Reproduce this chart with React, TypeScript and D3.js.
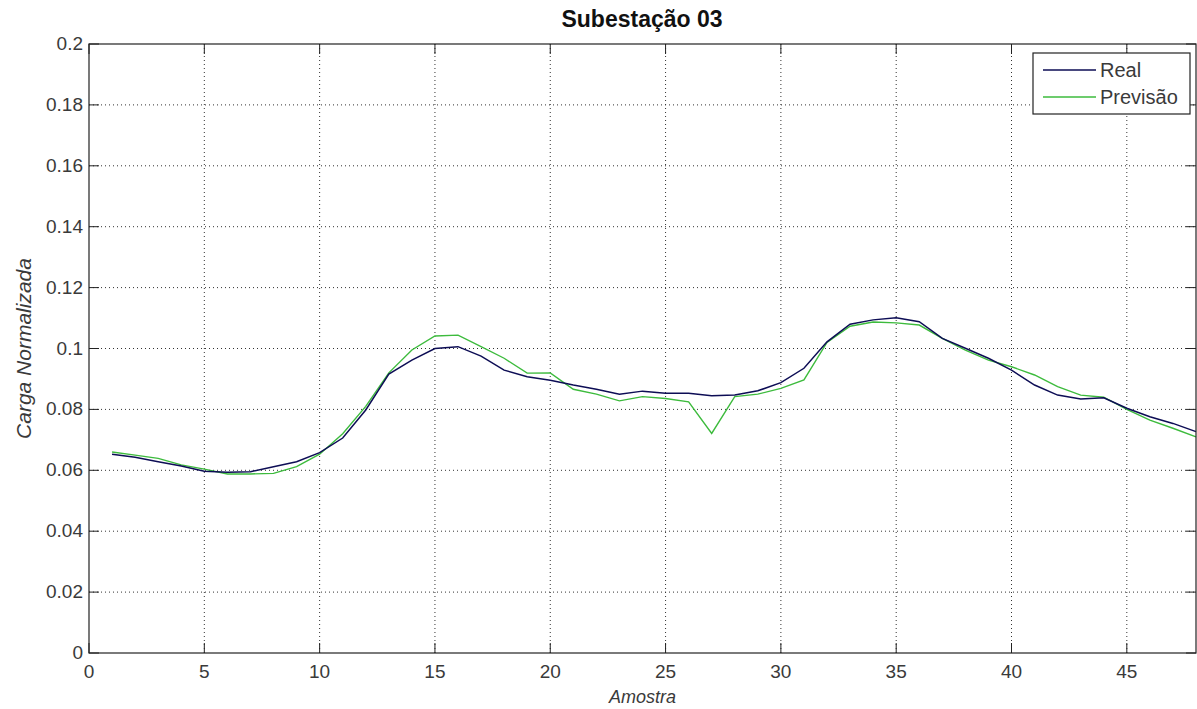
import React from "react";
import * as d3 from "d3";

const samples = d3.range(1, 49);
const realValues = [
  0.0653, 0.0643, 0.0628, 0.0614, 0.0597, 0.0594, 0.0595, 0.0612, 0.0628, 0.0658,
  0.0706, 0.0798, 0.0916, 0.0962, 0.1, 0.1006, 0.0975, 0.0929, 0.0907, 0.0896,
  0.088, 0.0866, 0.085, 0.086, 0.0853, 0.0853, 0.0845, 0.0847, 0.0861, 0.0888,
  0.0935, 0.1022, 0.108, 0.1094, 0.1101, 0.1088, 0.1033, 0.1001, 0.0968, 0.0929,
  0.088, 0.0847, 0.0834, 0.0838, 0.0804, 0.0776, 0.0754, 0.0727,
];
const forecastValues = [
  0.066, 0.065, 0.0639, 0.0618, 0.0604, 0.0588, 0.0588, 0.059, 0.0612, 0.0653,
  0.072, 0.081, 0.092, 0.0995, 0.1041, 0.1044, 0.1006, 0.0968, 0.0919, 0.092,
  0.0866, 0.085, 0.0828, 0.0842, 0.0836, 0.0825, 0.0721, 0.0842, 0.085, 0.0869,
  0.0897, 0.102, 0.1073, 0.1087, 0.1084, 0.1077, 0.1033, 0.0995, 0.0962, 0.094,
  0.0913, 0.0875, 0.0847, 0.084, 0.08, 0.0765, 0.0738, 0.071,
];
const xTicks = [0, 5, 10, 15, 20, 25, 30, 35, 40, 45];
const yTicks = [0, 0.02, 0.04, 0.06, 0.08, 0.1, 0.12, 0.14, 0.16, 0.18, 0.2];
const seriesNames = ["Real", "Previsão"];
const title = "Subestação 03";
const xLabel = "Amostra";
const yLabel = "Carga Normalizada";

const W = 1197;
const H = 709;
const L = 89, R = 1196, T = 44, B = 653;
const font = "'Liberation Sans', Arial, sans-serif";
const realColor = "#0d0d55";
const forecastColor = "#3dbb3d";

export default function App() {
  const x = d3.scaleLinear().domain([0, 48]).range([L, R]);
  const y = d3.scaleLinear().domain([0, 0.2]).range([B, T]);
  const line = d3
    .line<number>()
    .x((_, i) => x(samples[i]))
    .y((d) => y(d));
  const tl = 10;
  return (
    <svg
      width={W}
      height={H}
      style={{ position: "absolute", left: 0, top: 0, background: "#fff" }}
      fontFamily={font}
    >
      <rect x={0} y={0} width={W} height={H} fill="#fff" />
      {/* grid */}
      {xTicks.filter((t) => t > 0).map((t) => (
        <line key={"gx" + t} x1={x(t)} x2={x(t)} y1={T} y2={B} stroke="#333" strokeWidth={1} strokeDasharray="1 3" />
      ))}
      {yTicks.filter((t) => t > 0 && t < 0.2).map((t) => (
        <line key={"gy" + t} x1={L} x2={R} y1={y(t)} y2={y(t)} stroke="#333" strokeWidth={1} strokeDasharray="1 3" />
      ))}
      {/* ticks */}
      {xTicks.map((t) => (
        <g key={"tx" + t}>
          <line x1={x(t)} x2={x(t)} y1={B} y2={B - tl} stroke="#222" />
          <line x1={x(t)} x2={x(t)} y1={T} y2={T + tl} stroke="#222" />
          <text x={x(t)} y={B + 25} textAnchor="middle" fontSize={19} fill="#3a3a3a">
            {t}
          </text>
        </g>
      ))}
      {yTicks.map((t) => (
        <g key={"ty" + t}>
          <line x1={L} x2={L + tl} y1={y(t)} y2={y(t)} stroke="#222" />
          <line x1={R} x2={R - tl} y1={y(t)} y2={y(t)} stroke="#222" />
          <text x={L - 6} y={y(t) + 6} textAnchor="end" fontSize={19} fill="#3a3a3a">
            {String(t)}
          </text>
        </g>
      ))}
      {/* series */}
      <path d={line(forecastValues) || ""} fill="none" stroke={forecastColor} strokeWidth={1.4} />
      <path d={line(realValues) || ""} fill="none" stroke={realColor} strokeWidth={1.5} />
      {/* box */}
      <rect x={L} y={T} width={R - L} height={B - T} fill="none" stroke="#222" strokeWidth={1.2} />
      {/* legend */}
      <g>
        <rect x={1033} y={53} width={157} height={61} fill="#fff" stroke="#222" strokeWidth={1.2} />
        {seriesNames.map((n, i) => (
          <g key={n}>
            <line x1={1043} x2={1096} y1={70 + i * 27} y2={70 + i * 27} stroke={i === 0 ? realColor : forecastColor} strokeWidth={1.5} />
            <text x={1100} y={70 + i * 27 + 7} fontSize={20} fill="#3a3a3a">
              {n}
            </text>
          </g>
        ))}
      </g>
      {/* labels */}
      <text x={642} y={27} textAnchor="middle" fontSize={23} fontWeight="bold" fill="#111">
        {title}
      </text>
      <text x={(L + R) / 2} y={703} textAnchor="middle" fontSize={18} fontStyle="italic" fill="#3a3a3a">
        {xLabel}
      </text>
      <text
        transform={`translate(31, ${(T + B) / 2}) rotate(-90)`}
        textAnchor="middle"
        fontSize={21}
        fontStyle="italic"
        fill="#3a3a3a"
      >
        {yLabel}
      </text>
    </svg>
  );
}
